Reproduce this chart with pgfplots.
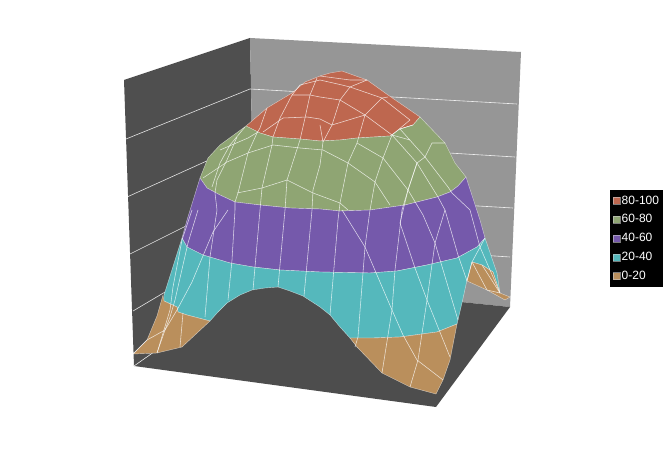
\documentclass[border=0pt]{standalone}
\usepackage{fontspec}
\setmainfont{Liberation Sans}
\usepackage{pgfplots}
\pgfplotsset{compat=1.18}
\definecolor{wallL}{HTML}{4F4F4F}
\definecolor{wallB}{HTML}{969696}
\definecolor{flr}{HTML}{4D4D4D}
\definecolor{bandA}{HTML}{BE674F}
\definecolor{bandB}{HTML}{8FA573}
\definecolor{bandC}{HTML}{7559AB}
\definecolor{bandD}{HTML}{55B8BC}
\definecolor{bandE}{HTML}{BA8F5C}
\pgfplotsset{
  wall/.style={fill=#1,draw=none,forget plot},
  grid line/.style={draw=white,opacity=0.85,line width=0.6pt,no marks,forget plot},
  band/.style={fill=#1,draw=white,draw opacity=0.6,line width=0.4pt,no marks},
  wire/.style={draw=white,opacity=0.75,line width=0.55pt,no marks,forget plot},
}
\begin{document}
\begin{tikzpicture}
\begin{axis}[
  hide axis,
  scale only axis,
  width=670pt,height=457pt,
  xmin=0,xmax=670,ymin=0,ymax=457,
  y dir=reverse,
  clip=false,
  legend style={at={(axis cs:610,190)},anchor=north west,fill=black,draw=none,
    text=white,font=\fontsize{12}{13}\selectfont,inner xsep=3pt,inner ysep=4.5pt,
    row sep=7pt,nodes={inner sep=1pt}},
  legend cell align=left,
  legend image code/.code={
    \draw[#1,draw=white!80!black,line width=0.5pt] (3pt,-3.5pt) rectangle (10pt,3.5pt);
  },
]
% page background
\addplot[wall=white] coordinates {(0,0)(670,0)(670,457)(0,457)} --cycle;
% walls and floor
\addplot[wall=wallL] coordinates {(124,80)(250,38)(255,281)(134,366)} --cycle;
\addplot[wall=wallB] coordinates {(250,38)(521,52)(510,307)(255,281)} --cycle;
\addplot[wall=flr] coordinates {(134,366)(255,281)(510,307)(436,407)} --cycle;
% gridlines on the walls
\addplot[grid line] coordinates {(126,139)(250,89)(517,104)};
\addplot[grid line] coordinates {(127,197)(251,141)(515,157)};
\addplot[grid line] coordinates {(130,254)(252,193)(513,208)};
\addplot[grid line] coordinates {(133,311)(253,240)(510,257)};
\addplot[grid line] coordinates {(134,366)(255,281)};
% 80-100
\addplot[band=bandA] coordinates {(246,126)(267,108)(292,93)(305,82)(320,76)(330,73)(342,71)(367,80)(388,95)(420,117)(413,125)(400,129)(390,136)(357,138)(340,140)(320,141)(300,139)(273,137)(260,133)} --cycle;
\addlegendentry{80-100}
% 60-80
\addplot[band=bandB] coordinates {(246,126)(260,133)(273,137)(300,139)(320,141)(340,140)(357,138)(390,136)(400,129)(413,125)(420,117)(445,143)(455,163)(466,177)(458,186)(450,192)(437,197)(405,205)(370,210)(340,211)(320,209)(290,208)(260,205)(235,202)(220,195)(207,188)(200,178)(208,158)(220,145)} --cycle;
\addlegendentry{60-80}
% 40-60
\addplot[band=bandC] coordinates {(200,178)(207,188)(220,195)(235,202)(260,205)(290,208)(320,209)(340,211)(370,210)(405,205)(437,197)(450,192)(458,186)(466,177)(480,220)(485,238)(477,247)(457,258)(427,265)(397,271)(370,273)(320,272)(280,270)(253,267)(230,263)(203,255)(187,247)(182,238)(187,220)} --cycle;
\addlegendentry{40-60}
% 20-40
\addplot[band=bandD] coordinates {(182,238)(187,247)(203,255)(230,263)(253,267)(280,270)(320,272)(370,273)(397,271)(427,265)(457,258)(477,247)(485,238)(497,273)(500,293)(493,272)(482,265)(472,262)(467,280)(462,303)(457,324)(437,332)(400,337)(373,338)(350,338)(340,327)(330,315)(320,307)(303,296)(290,291)(278,287)(265,288)(252,290)(240,295)(227,303)(218,312)(210,321)(187,315)(178,312)(177,307)(164,301)(164,295)} --cycle;
\addlegendentry{20-40}
% 0-20, front and back parts
\addplot[band=bandE] coordinates {(163,295)(164,301)(177,307)(178,312)(187,315)(210,321)(182,347)(157,353)(133,354)(147,340)(157,316)} --cycle;
\addlegendentry{0-20}
\addplot[band=bandE,forget plot] coordinates {(350,338)(373,338)(400,337)(437,332)(457,324)(450,360)(443,380)(436,394)(410,387)(382,373)(357,347)} --cycle;
\addplot[band=bandE,forget plot] coordinates {(472,262)(482,265)(493,272)(500,293)(510,297)(505,300)(487,290)(467,281)} --cycle;
% surface wires, running front to back
\addplot[wire] coordinates {(300,85)(292,95)(280,118)(273,137)(272,145)(262,188)(260,210)(255,267)(253,290)};
\addplot[wire] coordinates {(267,108)(260,128)(257,133)(248,153)(238,193)(235,202)(235,210)(232,260)(228,300)};
\addplot[wire] coordinates {(317,78)(310,95)(305,118)(300,140)(287,180)(285,210)(278,287)};
\addplot[wire] coordinates {(320,125)(323,142)(320,165)(313,190)(312,210)(304,296)};
\addplot[wire] coordinates {(367,80)(350,87)(340,100)(332,125)(323,142)};
\addplot[wire] coordinates {(388,97)(382,98)(365,115)(357,143)(348,163)(340,203)(338,220)(330,315)};
\addplot[wire] coordinates {(410,120)(392,135)(383,158)(375,182)(370,210)(365,247)(358,337)(355,347)};
\addplot[wire] coordinates {(445,143)(432,143)(425,157)(417,163)(408,190)(402,210)(395,270)(392,310)(382,373)};
\addplot[wire] coordinates {(245,127)(230,145)(220,163)(212,187)};
\addplot[wire] coordinates {(237,137)(227,160)(217,180)(215,193)(217,210)(210,257)(205,317)};
\addplot[wire] coordinates {(192,210)(182,240)(173,287)(170,310)(157,353)};
\addplot[wire] coordinates {(198,210)(188,243)(175,300)(170,317)(165,330)};
\addplot[wire] coordinates {(228,210)(213,232)(192,282)(177,310)(165,330)(157,353)};
\addplot[wire] coordinates {(165,330)(147,340)(133,354)};
\addplot[wire] coordinates {(183,313)(180,347)};
\addplot[wire] coordinates {(413,125)(400,129)(425,157)(448,187)(452,193)(470,210)(480,247)(500,293)};
\addplot[wire] coordinates {(392,135)(417,163)(438,197)(445,210)(458,255)(467,281)};
\addplot[wire] coordinates {(357,143)(383,158)(408,190)(423,215)(435,243)(458,320)};
\addplot[wire] coordinates {(417,163)(408,190)(400,223)};
\addplot[wire] coordinates {(400,223)(415,268)(427,300)(450,357)};
\addplot[wire] coordinates {(445,210)(435,243)(427,300)(418,360)(410,387)};
\addplot[wire] coordinates {(342,210)(365,247)(392,310)(403,335)(417,360)(443,380)};
% surface wires, running across
\addplot[wire] coordinates {(263,132)(283,118)(307,117)(320,119)(332,125)(365,115)(392,135)(410,140)};
\addplot[wire] coordinates {(292,95)(310,95)(320,97)(340,100)(365,115)};
\addplot[wire] coordinates {(300,85)(320,80)(342,85)(350,87)(382,98)(410,120)};
\addplot[wire] coordinates {(320,76)(350,80)(367,80)};
\addplot[wire] coordinates {(273,145)(300,148)(323,150)(348,163)(375,182)(390,205)};
\addplot[wire] coordinates {(220,150)(248,138)(258,132)};
\addplot[wire] coordinates {(203,178)(227,162)(248,153)(273,145)};
\addplot[wire] coordinates {(237,193)(262,188)(287,180)(313,193)(340,203)(348,210)};
\addplot[wire] coordinates {(472,262)(487,290)(500,293)};
\addplot[wire] coordinates {(485,238)(472,262)(467,281)};
\addplot[wire] coordinates {(482,265)(500,293)};
\end{axis}
\end{tikzpicture}
\end{document}
